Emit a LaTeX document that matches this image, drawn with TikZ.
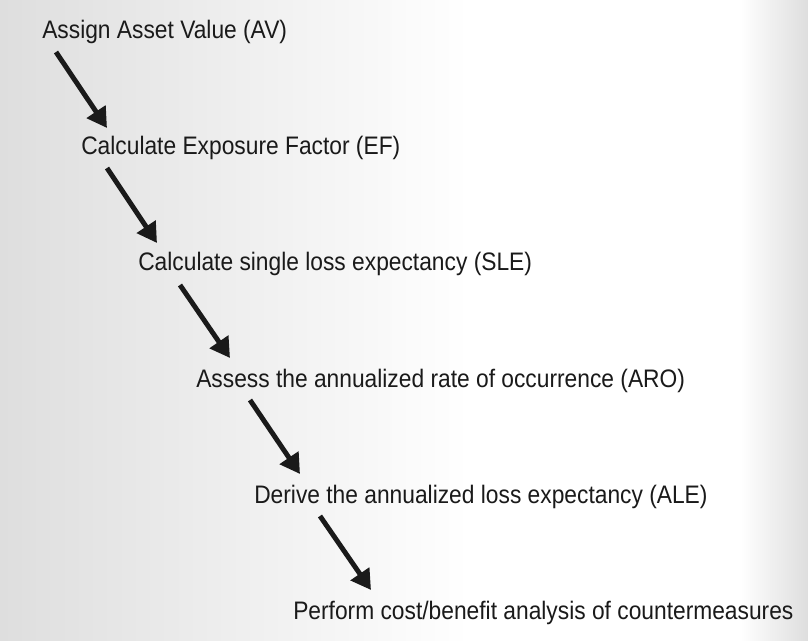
\documentclass[tikz,border=0pt]{standalone}
\usepackage{fontspec}
\setmainfont{Liberation Sans}[FakeStretch=0.9]
\usetikzlibrary{arrows.meta}
\definecolor{bgshade}{RGB}{222,222,222}
\definecolor{inkgray}{RGB}{26,26,26}

\begin{document}
\begin{tikzpicture}[x=0.025cm, y=-0.025cm,
  stagetext/.style={anchor=base west, inner sep=0, text=inkgray, font=\fontsize{18}{21}\selectfont},
  flowarrow/.style={draw=inkgray, line width=3.5pt, -{Triangle[length=14pt, width=15.5pt]}}]
% background
\shade[left color=bgshade, right color=white] (0,0) rectangle (470,640);
\fill[white] (470,0) rectangle (740,640);
\shade[left color=white, right color=bgshade] (740,0) rectangle (808,640);
\useasboundingbox (0,0) rectangle (808,640);

\node[stagetext] (av)  at (42,38)  {Assign Asset Value (AV)};
\node[stagetext] (ef)  at (81,154) {Calculate Exposure Factor (EF)};
\node[stagetext] (sle) at (138,270) {Calculate single loss expectancy (SLE)};
\node[stagetext] (aro) at (196,387) {Assess the annualized rate of occurrence (ARO)};
\node[stagetext] (ale) at (254,503) {Derive the annualized loss expectancy (ALE)};
\node[stagetext] (cba) at (293,619) {Perform cost/benefit analysis of countermeasures};

\draw[flowarrow] ([shift={(14,14)}]av.base west) -- ([shift={(26,-26)}]ef.base west);
\draw[flowarrow] ([shift={(26,14)}]ef.base west) -- ([shift={(19,-27)}]sle.base west);
\draw[flowarrow] ([shift={(42,15)}]sle.base west) -- ([shift={(34,-29)}]aro.base west);
\draw[flowarrow] ([shift={(54,13)}]aro.base west) -- ([shift={(46,-29)}]ale.base west);
\draw[flowarrow] ([shift={(66,13)}]ale.base west) -- ([shift={(78,-29)}]cba.base west);
\end{tikzpicture}
\end{document}
